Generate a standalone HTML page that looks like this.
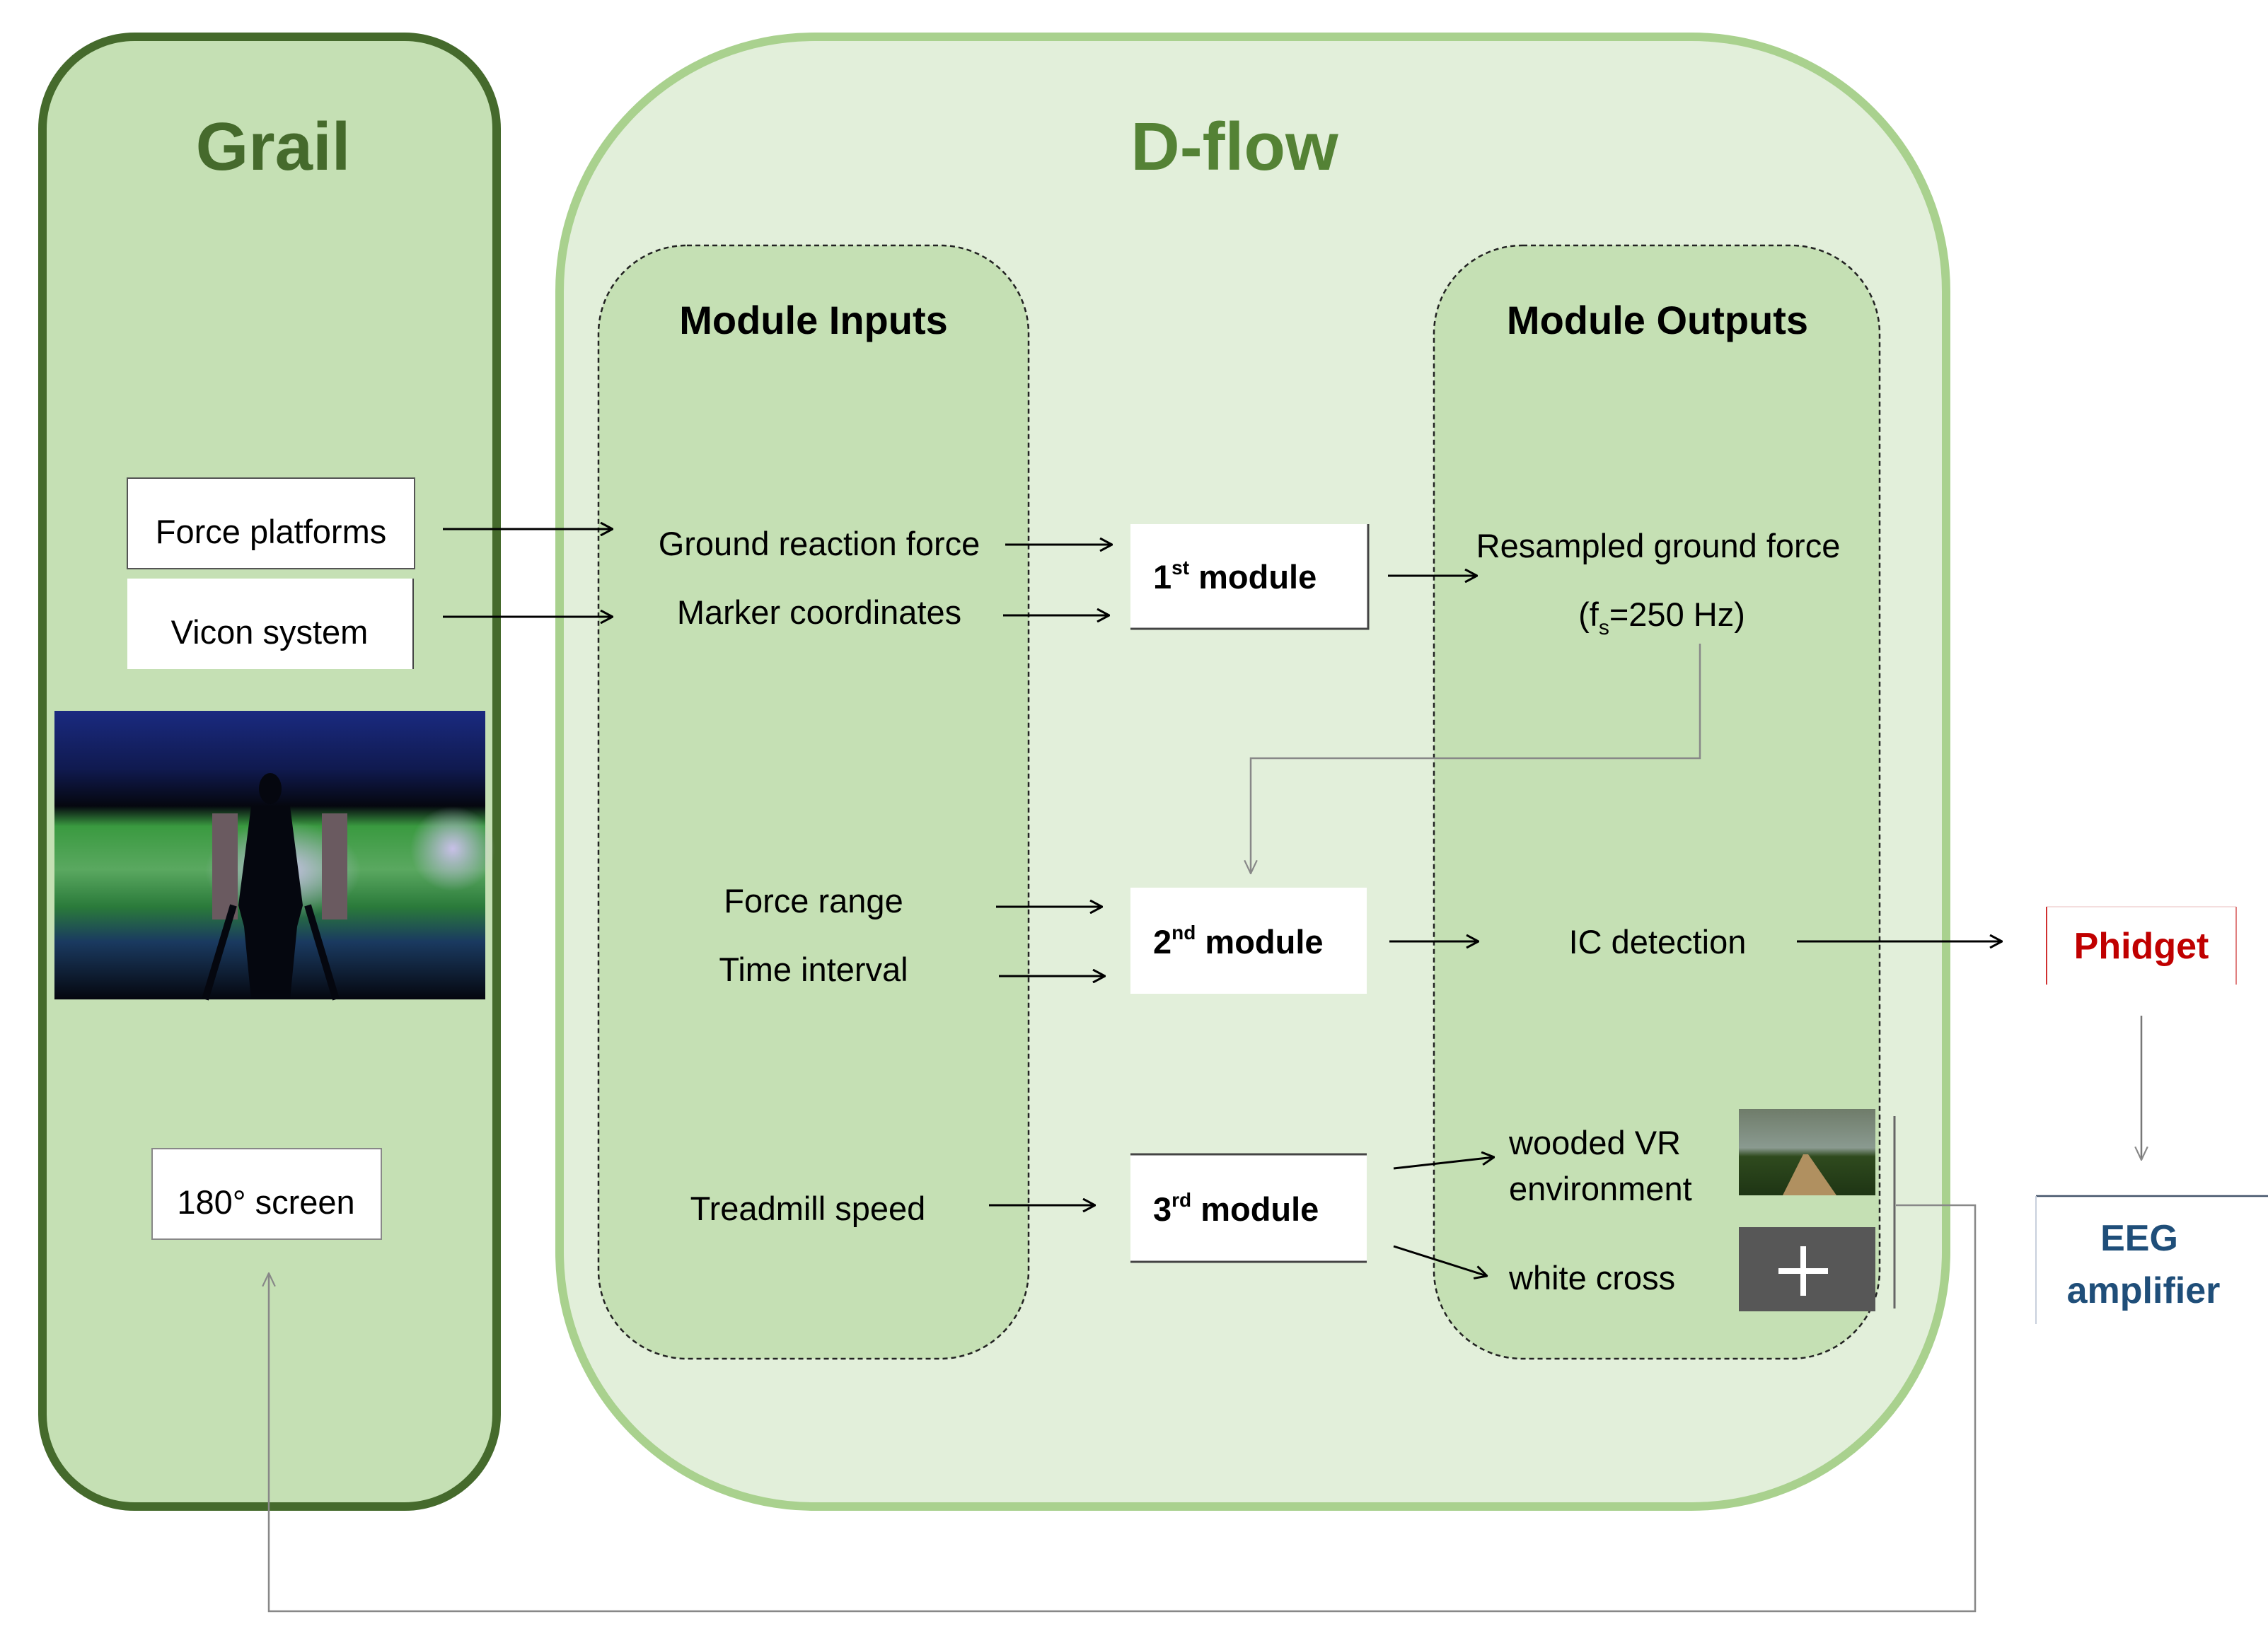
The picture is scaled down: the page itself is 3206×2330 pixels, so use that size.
<!DOCTYPE html>
<html><head><meta charset="utf-8"><style>
html,body{margin:0;padding:0;background:#fff}
svg{display:block}
text{font-family:"Liberation Sans",sans-serif}
</style></head><body>
<svg width="3206" height="2330" viewBox="0 0 3206 2330" xmlns="http://www.w3.org/2000/svg">
<defs>
<marker id="ah" viewBox="0 0 20 20" refX="19" refY="10" markerWidth="20" markerHeight="20" markerUnits="userSpaceOnUse" orient="auto">
<path d="M2,1 L19,10 L2,19" fill="none" stroke="#000" stroke-width="3"/></marker>
<marker id="ahg" viewBox="0 0 20 20" refX="19" refY="10" markerWidth="22" markerHeight="22" markerUnits="userSpaceOnUse" orient="auto">
<path d="M2,2 L19,10 L2,18" fill="none" stroke="#888" stroke-width="2"/></marker>
<linearGradient id="sc" x1="0" y1="0" x2="0" y2="1">
<stop offset="0" stop-color="#1a2a80"/><stop offset="0.2" stop-color="#101a50"/><stop offset="0.33" stop-color="#05070f"/>
<stop offset="0.4" stop-color="#3a9a40"/><stop offset="0.55" stop-color="#5aa860"/><stop offset="0.68" stop-color="#2a7a3a"/>
<stop offset="0.8" stop-color="#1a3a60"/><stop offset="1" stop-color="#05070f"/></linearGradient>
<radialGradient id="sky" cx="0.5" cy="0.5" r="0.5">
<stop offset="0" stop-color="#c8c0e8"/><stop offset="1" stop-color="#c8c0e8" stop-opacity="0"/></radialGradient>
<linearGradient id="fo" x1="0" y1="0" x2="0" y2="1">
<stop offset="0" stop-color="#6f7c6a"/><stop offset="0.45" stop-color="#8a9a90"/><stop offset="0.55" stop-color="#2f4a1e"/><stop offset="1" stop-color="#1e3514"/></linearGradient>
</defs>

<rect x="60" y="52" width="642" height="2078" rx="130" fill="#c5e0b4" stroke="#456a2c" stroke-width="12"/>
<text x="386" y="240" font-size="96" font-weight="bold" fill="#456a2c" text-anchor="middle">Grail</text>

<rect x="791" y="52" width="1960" height="2078" rx="360" fill="#e2efda" stroke="#a9d18e" stroke-width="12"/>
<text x="1745" y="240" font-size="96" font-weight="bold" fill="#548235" text-anchor="middle">D-flow</text>

<rect x="846" y="347" width="608" height="1574" rx="125" fill="#c5e0b4" stroke="#222" stroke-width="2.5" stroke-dasharray="7,5"/>
<rect x="2027" y="347" width="630" height="1574" rx="125" fill="#c5e0b4" stroke="#222" stroke-width="2.5" stroke-dasharray="7,5"/>
<text x="1150" y="472" font-size="56" font-weight="bold" text-anchor="middle">Module Inputs</text>
<text x="2343" y="472" font-size="56" font-weight="bold" text-anchor="middle">Module Outputs</text>

<rect x="180" y="676" width="406" height="128" fill="#fff" stroke="#555" stroke-width="2"/>
<text x="383" y="768" font-size="47" text-anchor="middle">Force platforms</text>
<rect x="180" y="818" width="404" height="128" fill="#fff"/>
<line x1="584" y1="818" x2="584" y2="946" stroke="#444" stroke-width="2"/>
<text x="381" y="910" font-size="47" text-anchor="middle">Vicon system</text>

<rect x="77" y="1005" width="609" height="408" fill="url(#sc)"/>
<ellipse cx="400" cy="1230" rx="110" ry="70" fill="url(#sky)"/>
<ellipse cx="640" cy="1200" rx="60" ry="60" fill="url(#sky)"/>
<rect x="300" y="1150" width="36" height="150" fill="#6a5a60"/>
<rect x="455" y="1150" width="36" height="150" fill="#6a5a60"/>
<ellipse cx="382" cy="1115" rx="16" ry="22" fill="#05070f"/>
<path d="M355,1140 L410,1140 L428,1280 L420,1310 L410,1413 L355,1413 L345,1310 L337,1280 Z" fill="#05070f"/>
<path d="M330,1280 L290,1413 M435,1280 L475,1413" stroke="#05070f" stroke-width="10"/>

<rect x="215" y="1624" width="324" height="128" fill="#fff" stroke="#888" stroke-width="2"/>
<text x="376" y="1716" font-size="47" text-anchor="middle">180° screen</text>

<line x1="626" y1="748" x2="866" y2="748" stroke="#000" stroke-width="3" marker-end="url(#ah)"/>
<line x1="626" y1="872" x2="866" y2="872" stroke="#000" stroke-width="3" marker-end="url(#ah)"/>

<text x="1158" y="785" font-size="47" text-anchor="middle">Ground reaction force</text>
<text x="1158" y="882" font-size="47" text-anchor="middle">Marker coordinates</text>
<line x1="1421" y1="770" x2="1572" y2="770" stroke="#000" stroke-width="3" marker-end="url(#ah)"/>
<line x1="1418" y1="870" x2="1568" y2="870" stroke="#000" stroke-width="3" marker-end="url(#ah)"/>

<rect x="1598" y="741" width="336" height="148" fill="#fff"/>
<path d="M1934,741 L1934,889 L1598,889" fill="none" stroke="#444" stroke-width="3"/>
<text x="1630" y="832" font-size="47" font-weight="bold">1<tspan font-size="28" dy="-20">st</tspan><tspan dy="20"> module</tspan></text>
<line x1="1962" y1="814" x2="2088" y2="814" stroke="#000" stroke-width="3" marker-end="url(#ah)"/>

<text x="2344" y="788" font-size="47" text-anchor="middle">Resampled ground force</text>
<text x="2349" y="885" font-size="47" text-anchor="middle">(f<tspan font-size="30" dy="12">s</tspan><tspan dy="-12">=250 Hz)</tspan></text>

<polyline points="2403,910 2403,1072 1768,1072 1768,1235" fill="none" stroke="#888" stroke-width="2.5" marker-end="url(#ahg)"/>

<text x="1150" y="1290" font-size="47" text-anchor="middle">Force range</text>
<text x="1150" y="1387" font-size="47" text-anchor="middle">Time interval</text>
<line x1="1408" y1="1282" x2="1558" y2="1282" stroke="#000" stroke-width="3" marker-end="url(#ah)"/>
<line x1="1412" y1="1380" x2="1562" y2="1380" stroke="#000" stroke-width="3" marker-end="url(#ah)"/>

<rect x="1598" y="1255" width="334" height="150" fill="#fff"/>
<text x="1630" y="1348" font-size="47" font-weight="bold">2<tspan font-size="28" dy="-20">nd</tspan><tspan dy="20"> module</tspan></text>
<line x1="1964" y1="1331" x2="2090" y2="1331" stroke="#000" stroke-width="3" marker-end="url(#ah)"/>
<text x="2343" y="1348" font-size="47" text-anchor="middle">IC detection</text>
<line x1="2540" y1="1331" x2="2830" y2="1331" stroke="#000" stroke-width="3" marker-end="url(#ah)"/>

<rect x="2893" y="1282" width="268" height="110" fill="#fff"/>
<line x1="2893" y1="1282" x2="3161" y2="1282" stroke="#f4dede" stroke-width="2"/>
<line x1="2893" y1="1282" x2="2893" y2="1392" stroke="#d03030" stroke-width="2"/>
<line x1="3161" y1="1282" x2="3161" y2="1392" stroke="#e08080" stroke-width="2"/>
<text x="3027" y="1355" font-size="52" font-weight="bold" fill="#c00000" text-anchor="middle">Phidget</text>
<line x1="3027" y1="1436" x2="3027" y2="1640" stroke="#777" stroke-width="2.5" marker-end="url(#ahg)"/>

<line x1="2878" y1="1691" x2="3206" y2="1691" stroke="#44546a" stroke-width="2.5"/>
<line x1="2878" y1="1691" x2="2878" y2="1872" stroke="#c8d0dc" stroke-width="2"/>
<text x="3024" y="1768" font-size="52" font-weight="bold" fill="#1f4e79" text-anchor="middle">EEG</text>
<text x="3030" y="1842" font-size="52" font-weight="bold" fill="#1f4e79" text-anchor="middle">amplifier</text>

<text x="1142" y="1725" font-size="47" text-anchor="middle">Treadmill speed</text>
<line x1="1398" y1="1704" x2="1548" y2="1704" stroke="#000" stroke-width="3" marker-end="url(#ah)"/>
<rect x="1598" y="1632" width="334" height="152" fill="#fff"/>
<line x1="1598" y1="1632" x2="1932" y2="1632" stroke="#444" stroke-width="3"/>
<line x1="1598" y1="1784" x2="1932" y2="1784" stroke="#444" stroke-width="3"/>
<text x="1630" y="1726" font-size="47" font-weight="bold">3<tspan font-size="28" dy="-20">rd</tspan><tspan dy="20"> module</tspan></text>
<line x1="1970" y1="1652" x2="2112" y2="1636" stroke="#000" stroke-width="3" marker-end="url(#ah)"/>
<line x1="1970" y1="1762" x2="2102" y2="1804" stroke="#000" stroke-width="3" marker-end="url(#ah)"/>

<text x="2133" y="1632" font-size="47">wooded VR</text>
<text x="2133" y="1697" font-size="47">environment</text>
<text x="2133" y="1823" font-size="47">white cross</text>

<rect x="2458" y="1568" width="193" height="122" fill="url(#fo)"/>
<path d="M2520,1690 L2549,1632 L2556,1632 L2596,1690 Z" fill="#b09060"/>
<rect x="2458" y="1735" width="193" height="119" fill="#575757"/>
<rect x="2545" y="1762" width="8" height="70" fill="#fff"/>
<rect x="2514" y="1793" width="70" height="8" fill="#fff"/>

<line x1="2678" y1="1578" x2="2678" y2="1850" stroke="#666" stroke-width="3"/>
<polyline points="2680,1704 2792,1704 2792,2278 380,2278 380,1800" fill="none" stroke="#888" stroke-width="2.5" marker-end="url(#ahg)"/>
</svg>
</body></html>
